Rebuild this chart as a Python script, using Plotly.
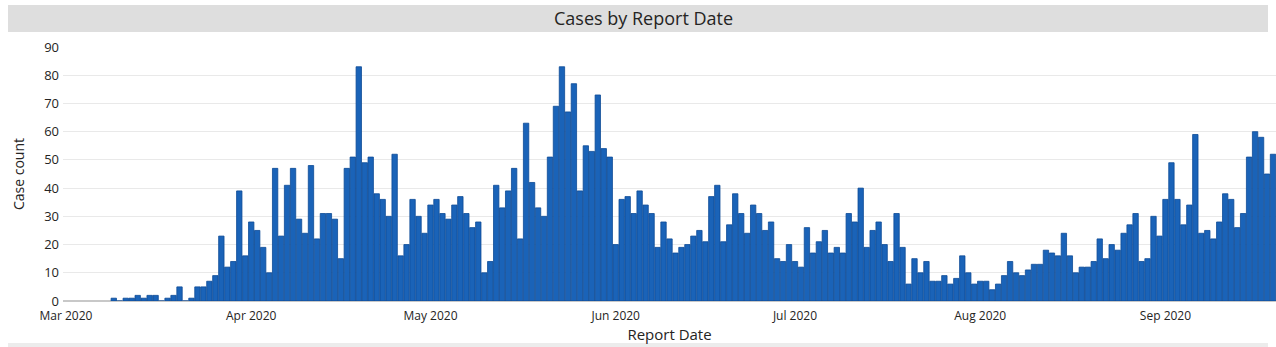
import pandas as pd
import plotly.graph_objects as go

start_date = "2020-03-09"
case_counts = [
    1, 0, 1, 1, 2, 1, 2, 2, 0, 1, 2, 5, 0, 1, 5, 5, 7, 9, 23,
    12, 14, 39, 16, 28, 25, 19, 10, 47, 23, 41, 47, 29, 24, 48, 22, 31, 31, 29, 15, 47, 51, 83, 49, 51,
    38, 36, 30, 52, 16, 20, 36, 30, 24, 34, 36, 31, 29, 34, 37, 31, 26, 28, 10, 14, 41, 33, 39, 47, 22,
    63, 42, 33, 30, 51, 69, 83, 67, 77, 39, 55, 53, 73, 54, 51, 20, 36, 37, 31, 39, 34, 31, 19, 28, 22,
    17, 19, 20, 23, 25, 21, 37, 41, 21, 27, 38, 31, 24, 34, 31, 25, 28, 15, 14, 20, 14, 12, 26, 17, 21,
    25, 17, 19, 17, 31, 28, 40, 19, 25, 28, 20, 14, 31, 19, 6, 15, 10, 14, 7, 7, 9, 6, 8, 16, 10,
    6, 7, 7, 4, 6, 9, 14, 10, 9, 11, 13, 13, 18, 17, 16, 24, 16, 10, 12, 12, 14, 22, 15, 20, 18,
    24, 27, 31, 14, 15, 30, 23, 36, 49, 36, 27, 34, 59, 24, 25, 22, 28, 38, 36, 26, 31, 51, 60, 58, 45, 52,
]
report_dates = pd.date_range(start_date, periods=len(case_counts), freq="D")

title_text = "Cases by Report Date"
x_title = "Report Date"
y_title = "Case count"

FONT = "Segoe UI, Open Sans, sans-serif"

fig = go.Figure(
    go.Bar(
        x=report_dates,
        y=case_counts,
        marker=dict(color="#1a63b8", line=dict(color="#0c4a96", width=0.8)),
        hoverinfo="x+y",
    )
)

W, H = 1276, 347
L, R, T, B = 63, 0, 47, 46
pw = W - L - R
ph = H - T - B

def px_x(x):
    return (x - L) / pw

def px_y(y):
    return (H - B - y) / ph

fig.update_layout(
    width=W,
    height=H,
    margin=dict(l=L, r=R, t=T, b=B),
    paper_bgcolor="white",
    plot_bgcolor="white",
    bargap=0.1,
    showlegend=False,
    font=dict(family=FONT, color="#252423"),
    shapes=[
        dict(type="rect", xref="paper", yref="paper",
             x0=px_x(8), x1=px_x(1268), y0=px_y(32), y1=px_y(5),
             fillcolor="#dedede", line=dict(width=0), layer="below"),
        dict(type="rect", xref="paper", yref="paper",
             x0=px_x(8), x1=px_x(1268), y0=px_y(347), y1=px_y(343),
             fillcolor="#ececec", line=dict(width=0), layer="below"),
    ],
    annotations=[
        dict(text=title_text, xref="paper", yref="paper",
             x=px_x(643), y=px_y(18.5), xanchor="center", yanchor="middle",
             showarrow=False, font=dict(size=18, color="#252423", family=FONT)),
    ],
    xaxis=dict(
        type="date",
        range=["2020-02-29 12:00", "2020-09-19 12:00"],
        tick0="2020-03-01",
        dtick="M1",
        tickformat="%b %Y",
        ticks="",
        showgrid=False,
        showline=False,
        zeroline=False,
        ticklabelstandoff=6,
        tickfont=dict(size=12, color="#252423"),
        title=dict(text=x_title, font=dict(size=15, color="#252423"), standoff=4),
    ),
    yaxis=dict(
        range=[0, 90],
        dtick=10,
        showgrid=True,
        gridcolor="#e9e9e9",
        gridwidth=1,
        zeroline=True,
        zerolinecolor="#c8c8c8",
        showline=False,
        ticks="",
        ticklabelstandoff=3,
        tickfont=dict(size=13, color="#252423"),
        title=dict(text=y_title, font=dict(size=14, color="#252423"), standoff=16),
    ),
)

fig.write_html("out.html")
